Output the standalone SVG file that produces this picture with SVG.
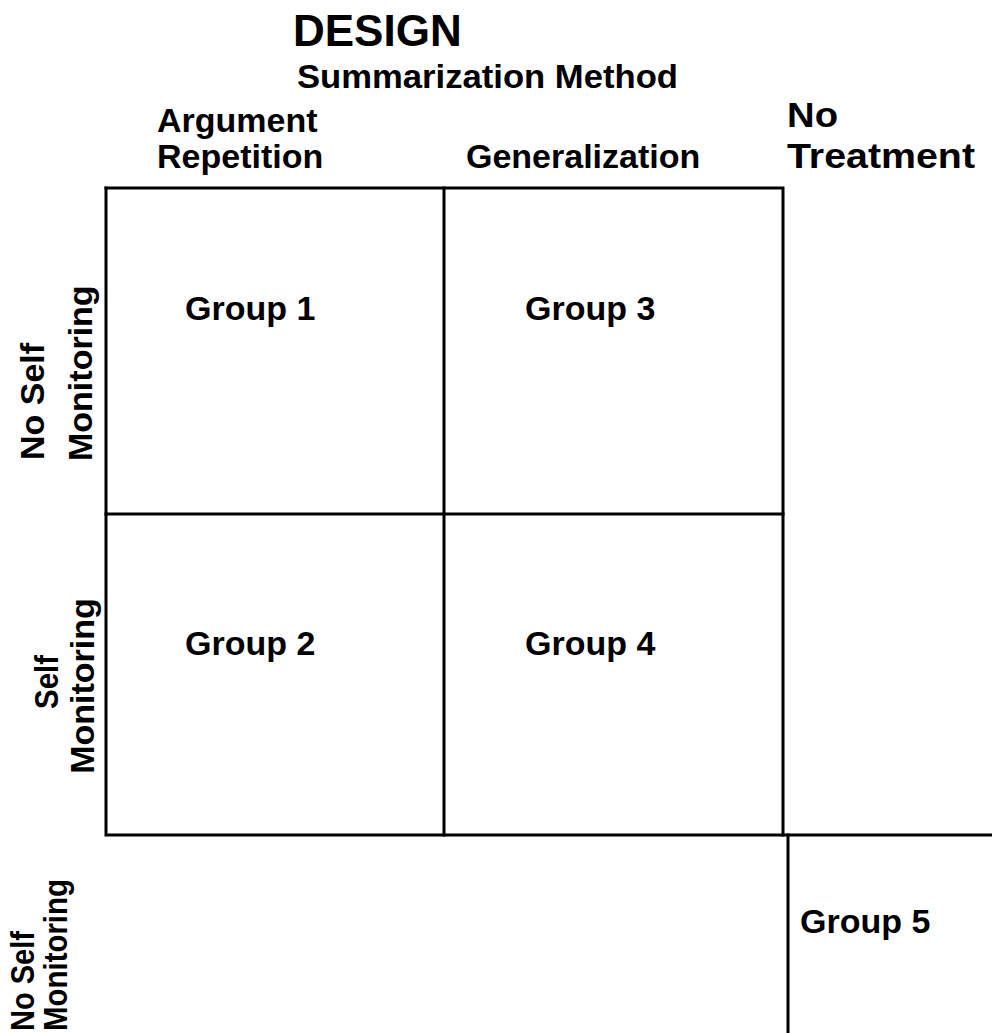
<svg xmlns="http://www.w3.org/2000/svg" width="992" height="1033" viewBox="0 0 992 1033">
<style>
text{font-family:"Liberation Sans",Arial,Helvetica,sans-serif;font-weight:bold;fill:#000}
.t34{font-size:34px}
.t35{font-size:35px}
.t44{font-size:44px}
.ln{stroke:#000;stroke-width:3;fill:none;stroke-linecap:square}
</style>
<rect width="992" height="1033" fill="#fff"/>
<g id="headers">
<text class="t44" x="293" y="46">DESIGN</text>
<text class="t34" x="297" y="88" textLength="381" lengthAdjust="spacingAndGlyphs">Summarization Method</text>
<text class="t34" x="157" y="132">Argument</text>
<text class="t34" x="157" y="168">Repetition</text>
<text class="t34" x="466" y="168">Generalization</text>
<text class="t35" x="787" y="127" textLength="51" lengthAdjust="spacingAndGlyphs">No</text>
<text class="t35" x="787" y="168" textLength="188" lengthAdjust="spacingAndGlyphs">Treatment</text>
</g>
<g id="row-labels">
<text class="t34" transform="translate(44,460) rotate(-90)">No Self</text>
<text class="t34" transform="translate(92,461) rotate(-90)">Monitoring</text>
<text class="t34" text-anchor="middle" textLength="54" lengthAdjust="spacingAndGlyphs" transform="translate(58,682) rotate(-90)">Self</text>
<text class="t34" text-anchor="middle" transform="translate(94,686) rotate(-90)">Monitoring</text>
<text class="t34" textLength="100" lengthAdjust="spacingAndGlyphs" transform="translate(34,1031) rotate(-90)">No Self</text>
<text class="t34" textLength="152" lengthAdjust="spacingAndGlyphs" transform="translate(67,1031) rotate(-90)">Monitoring</text>
</g>
<g id="connectors">
<path class="ln" d="M106 188 H783 V835"/>
<path class="ln" d="M106 188 V835 H992"/>
<path class="ln" d="M444 188 V835"/>
<path class="ln" d="M106 514 H783"/>
<path class="ln" d="M788 835 V1033"/>
</g>
<g id="group1"><text class="t34" x="185" y="320">Group 1</text></g>
<g id="group3"><text class="t34" x="525" y="320">Group 3</text></g>
<g id="group2"><text class="t34" x="185" y="655">Group 2</text></g>
<g id="group4"><text class="t34" x="525" y="655">Group 4</text></g>
<g id="group5"><text class="t34" x="800" y="933">Group 5</text></g>
</svg>
